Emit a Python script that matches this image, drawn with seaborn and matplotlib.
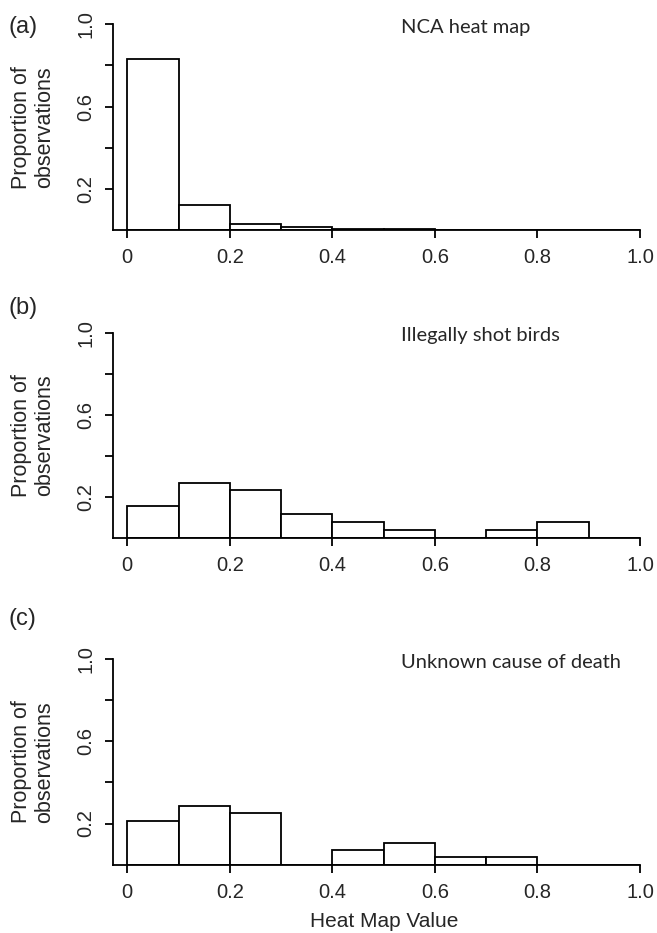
import numpy as np
import pandas as pd
import matplotlib
matplotlib.use("Agg")
import matplotlib.pyplot as plt
import seaborn as sns

# bin edges of the heat map value (0 to 1 in steps of 0.1)
bin_edges = [0.0, 0.1, 0.2, 0.3, 0.4, 0.5, 0.6, 0.7, 0.8, 0.9, 1.0]

nca_props = [0.830, 0.120, 0.029, 0.015, 0.006, 0.003, 0.002, 0.0, 0.0, 0.0]
shot_props = [0.154, 0.269, 0.231, 0.115, 0.077, 0.038, 0.0, 0.038, 0.077, 0.0]
unknown_props = [0.214, 0.286, 0.250, 0.0, 0.071, 0.107, 0.036, 0.036, 0.0, 0.0]

panel_tags = ["(a)", "(b)", "(c)"]
panel_titles = ["NCA heat map", "Illegally shot birds", "Unknown cause of death"]
x_ticks = [0, 0.2, 0.4, 0.6, 0.8, 1.0]
x_ticklabels = ["0", "0.2", "0.4", "0.6", "0.8", "1.0"]
y_ticks = [0.2, 0.4, 0.6, 0.8, 1.0]
y_ticklabels = ["0.2", "", "0.6", "", "1.0"]

sns.set_style("white")
plt.rcParams["font.family"] = ["Liberation Sans", "DejaVu Sans"]

W, H = 657, 933
fig = plt.figure(figsize=(W / 100, H / 100), dpi=100)

x_lo, x_hi = -0.0273, 1.03
ax_left = 113.3 / W
ax_width_px = (x_hi - x_lo) * 512.7
# (pixel row of y=1.0, pixel row of y=0) for each panel
panel_rows = [(24.3, 230.0), (333.3, 537.6), (659.0, 864.7)]
tag_rows = [27, 308, 619]
title_rows = [27, 336, 663]

all_props = [nca_props, shot_props, unknown_props]
centers = [(a + b) / 2 for a, b in zip(bin_edges[:-1], bin_edges[1:])]
lw = 1.3

for i, props in enumerate(all_props):
    top, base = panel_rows[i]
    ax_h_px = base - top
    ax = fig.add_axes([ax_left, (H - base) / H, ax_width_px / W, ax_h_px / H])
    df = pd.DataFrame({"value": centers, "prop": props})
    sns.histplot(data=df, x="value", weights="prop", bins=bin_edges, ax=ax,
                 stat="count", facecolor="white", edgecolor="black",
                 linewidth=lw, alpha=1)
    ax.set_xlim(x_lo, x_hi)
    ax.set_ylim(0, 1.0)
    for side in ["top", "right"]:
        ax.spines[side].set_visible(False)
    ax.spines["left"].set_bounds(0, 1.0)
    ax.spines["bottom"].set_bounds(x_lo, 1.0)
    for side in ["left", "bottom"]:
        ax.spines[side].set_linewidth(lw)
        ax.spines[side].set_color("black")
    ax.set_xticks(x_ticks)
    ax.set_xticklabels(x_ticklabels, fontsize=14.5)
    ax.set_yticks(y_ticks)
    ax.set_yticklabels(y_ticklabels, fontsize=14.5, rotation=90, va="center")
    ax.tick_params(axis="both", direction="out", length=6, width=lw,
                   color="black", pad=7, left=True, bottom=True)

    # two-line y label
    ax.set_ylabel("Proportion of\nobservations", fontsize=15.5,
                  linespacing=1.12)
    ax.yaxis.label.set_va("center")
    ax.yaxis.set_label_coords((33 - 113.3) / ax_width_px, 0.5)

    if i == 2:
        ax.set_xlabel("Heat Map Value", fontsize=15)
        ax.xaxis.label.set_va("center")
        ax.xaxis.set_label_coords((384 - 113.3) / ax_width_px,
                                  -(921.5 - base) / ax_h_px)
    else:
        ax.set_xlabel("")

    fig.text(401 / W, 1 - title_rows[i] / H, panel_titles[i],
             fontsize=14.5, family=["Lato", "DejaVu Sans"],
             va="center", ha="left")
    fig.text(9 / W, 1 - tag_rows[i] / H, panel_tags[i], fontsize=17,
             va="center", ha="left")

fig.savefig("out.png", dpi=100, facecolor="white")
